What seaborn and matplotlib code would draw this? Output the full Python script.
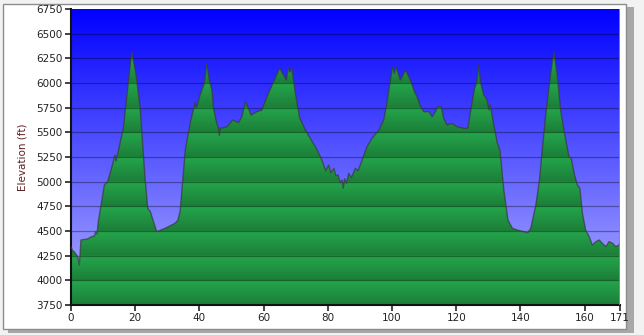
import numpy as np
import matplotlib
matplotlib.use("Agg")
import matplotlib.pyplot as plt
import seaborn as sns
import pandas as pd
from matplotlib.patches import PathPatch, Rectangle

# ---- data (distance, elevation in ft) ----
distance = [0, 0.5, 1, 2.1, 2.6, 3.1, 5.2, 6.4, 7.3, 7.7, 8.1, 8.5, 9.1, 10.4, 11.4, 12.5,
            13.7, 14.0, 14.8, 16.3, 17.5, 18.9, 20.2, 21.5, 23.1, 23.9, 24.7, 26.7, 29.3,
            32.4, 33.3, 34.0, 35.0, 35.6, 37.1, 38.7, 39.0, 40.2, 41.5, 42.3, 43.1, 43.9,
            44.4, 45.4, 46.0, 46.2, 46.5, 48.6, 50.4, 52.2, 53.2, 54.3, 54.8, 56.1, 57.9,
            59.5, 60.0, 61.5, 63.1, 65.0, 66.2, 67.1, 67.6, 68.2, 68.8, 69.9, 71.2, 73.0,
            74.5, 76.1, 77.7, 78.7, 79.3, 80.3, 80.9, 81.9, 82.5, 83.2, 83.8, 84.4, 84.8,
            85.2, 85.8, 86.5, 87.3, 88.6, 89.4, 90.7,
            92.2, 93.8, 95.9, 97.4, 98.2, 99.0, 100.0, 100.3, 100.7, 101.2, 102.6, 104.2,
            105.7, 107.0, 107.8, 108.9, 109.9, 111.5, 112.5, 113.5, 114.3, 115.3, 116.1,
            117.1, 118.6, 120.3, 122.4, 123.6, 124.7, 125.7, 126.3, 127.0, 127.6, 128.6,
            129.6, 130.2, 130.6, 131.7, 132.8, 133.6, 134.8, 136.1, 137.5, 139.0, 141.1,
            142.3, 143.2, 144.7, 145.8, 146.8, 147.8, 149.4, 150.4, 151.5, 152.5, 154.1,
            155.1, 155.8, 156.7, 157.7, 158.5, 159.3, 160.3, 161.4, 162.4, 163.5, 164.5,
            165.5, 166.6, 167.6, 168.7, 169.7, 170.7, 171.0]
elevation = [4340, 4300, 4290, 4240, 4155, 4409, 4420, 4442, 4450, 4493, 4470, 4594, 4713,
             4966, 5000, 5120, 5270, 5210, 5321, 5541, 5900, 6317, 6098, 5760, 5017, 4730,
             4696, 4493, 4527, 4578, 4610, 4700, 5085, 5321, 5591, 5810, 5743, 5878, 5997,
             6200, 6030, 5929, 5743, 5591, 5541, 5470, 5541, 5557, 5625, 5598, 5658, 5810,
             5780, 5676, 5709, 5726, 5777, 5895, 6013, 6149, 6081, 6030, 6149, 6110, 6149,
             5895, 5650, 5524, 5440, 5355, 5253, 5169, 5110, 5169, 5090, 5135, 5060, 5068,
             4990, 5017, 4933, 5030, 4985, 5085, 5040, 5135, 5110, 5220,
             5355, 5440, 5524, 5625, 5760, 5929, 6132, 6166, 6098, 6166,
             6030, 6132, 6030, 5912, 5861, 5760, 5709, 5709, 5658, 5709, 5760, 5760, 5642,
             5574, 5591, 5557, 5541, 5541, 5760, 5946, 5997, 6183, 5997, 5878, 5828, 5726,
             5777, 5574, 5389, 5321, 4916, 4611, 4527, 4510, 4493, 4483, 4527, 4747, 4983,
             5321, 5658, 6098, 6317, 6064, 5726, 5422, 5253, 5236, 5085, 4966, 4933, 4679,
             4510, 4442, 4358, 4392, 4409, 4375, 4341, 4392, 4375, 4341, 4358, 4380]
x_ticks = [0, 20, 40, 60, 80, 100, 120, 140, 160, 171]
y_ticks = list(range(3750, 6751, 250))

df = pd.DataFrame({"distance": distance, "elevation": elevation})

W, H = 644, 335
fig = plt.figure(figsize=(W / 100, H / 100), dpi=100)
fig.patch.set_facecolor("#f2f2f2")

# frame with shadow
fig.patches.append(Rectangle((8 / W, 1 - 333 / H), 626 / W, 326 / H, transform=fig.transFigure,
                             facecolor="#a8a8a8", edgecolor="none", zorder=0))
fig.patches.append(Rectangle((3 / W, 1 - 329 / H), 623 / W, 325 / H, transform=fig.transFigure,
                             facecolor="white", edgecolor="#8c8c8c", lw=1.0, zorder=1))

ax = fig.add_axes([71 / W, 1 - 305 / H, (620 - 71) / W, (305 - 9) / H])
ax.set_zorder(2)
ymin, ymax = 3750, 6750
xmin, xmax = 0, 171

# background blue gradient
n = 300
t = np.linspace(0, 1, n)[:, None]  # 0 top -> 1 bottom
top = np.array([0, 0, 255]) / 255
bot = np.array([178, 178, 255]) / 255
bg = (top * (1 - t) + bot * t)[:, None, :].repeat(2, axis=1)
ax.imshow(bg, extent=[xmin, xmax, ymin, ymax], aspect="auto", origin="upper", zorder=0,
          interpolation="bilinear")

# banded green gradient
rows = 1200
yy = np.linspace(ymax, ymin, rows)
frac = ((yy - ymin) % 250) / 250.0  # 0 at bottom of band, 1 at top
light = np.array([36, 166, 76]) / 255
dark = np.array([28, 126, 56]) / 255
g = dark[None, :] * (1 - frac[:, None]) + light[None, :] * frac[:, None]
gimg = g[:, None, :].repeat(2, axis=1)
im = ax.imshow(gimg, extent=[xmin, xmax, ymin, ymax], aspect="auto", origin="upper", zorder=1,
               interpolation="bilinear")
fb = ax.fill_between(df["distance"], df["elevation"], ymin, facecolor="none", edgecolor="none")
path = fb.get_paths()[0]
clip = PathPatch(path, transform=ax.transData, facecolor="none", edgecolor="none")
ax.add_patch(clip)
im.set_clip_path(clip)

# grid lines
for yv in y_ticks[1:-1]:
    ax.axhline(yv, color="black", alpha=0.35, lw=0.9, zorder=2)

# outline
sns.lineplot(data=df, x="distance", y="elevation", ax=ax, color="#3a3a3a", lw=1.0,
             alpha=0.7, zorder=3)
ax.axvline(171, color="#22dd22", lw=1.2, zorder=4)

ax.set_xlim(xmin, xmax)
ax.set_ylim(ymin, ymax)
ax.set_xticks(x_ticks)
ax.set_yticks(y_ticks)
ax.tick_params(axis="both", labelsize=7.5, colors="#222222", length=4, width=1.2, pad=2)
ax.set_xlabel("")
ax.set_ylabel("Elevation (ft)", fontsize=7.5, color="#5a2020", labelpad=6)
for s in ["top", "right"]:
    ax.spines[s].set_visible(False)
for s in ["left", "bottom"]:
    ax.spines[s].set_color("#111111")
    ax.spines[s].set_linewidth(1.5)

fig.savefig("out.png", dpi=100, facecolor=fig.get_facecolor())
